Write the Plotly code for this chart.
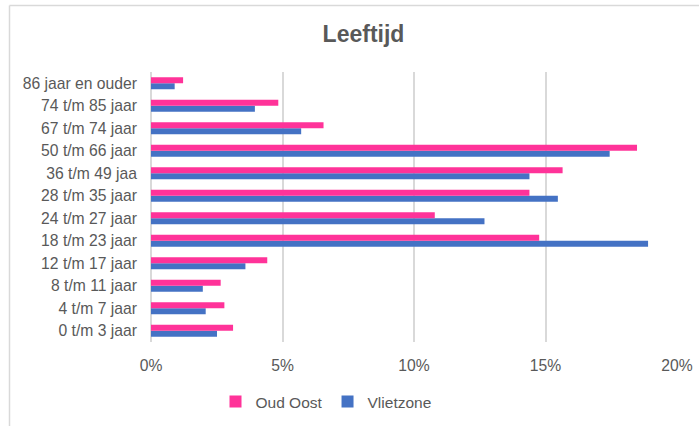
import plotly.graph_objects as go

categories = ["0 t/m 3 jaar", "4 t/m 7 jaar", "8 t/m 11 jaar", "12 t/m 17 jaar",
              "18 t/m 23 jaar", "24 t/m 27 jaar", "28 t/m 35 jaar", "36 t/m 49 jaa",
              "50 t/m 66 jaar", "67 t/m 74 jaar", "74 t/m 85 jaar", "86 jaar en ouder"]
oud_oost = [3.12, 2.79, 2.65, 4.42, 14.76, 10.79, 14.39, 15.65, 18.48, 6.56, 4.84, 1.22]
vlietzone = [2.51, 2.08, 1.97, 3.59, 18.90, 12.68, 15.47, 14.39, 17.44, 5.71, 3.95, 0.90]
x_ticks = [0, 5, 10, 15, 20]
x_tick_labels = ["0%", "5%", "10%", "15%", "20%"]

PINK = "#FF3399"
BLUE = "#4472C4"
TXT = "#595959"
GRID = "#D9D9D9"
FONT = "Liberation Sans, Arial, sans-serif"

fig = go.Figure()
fig.add_trace(go.Bar(y=categories, x=vlietzone, orientation="h", name="Vlietzone",
                     marker=dict(color=BLUE, line=dict(width=0)), legendrank=2))
fig.add_trace(go.Bar(y=categories, x=oud_oost, orientation="h", name="Oud Oost",
                     marker=dict(color=PINK, line=dict(width=0)), legendrank=1))

W, H = 699, 426
L, R, T, B = 151, 22, 72, 84
pw, ph = W - L - R, H - T - B

def px2x(px):
    return (px - L) / pw

def py2y(py):
    return (H - B - py) / ph

fig.update_layout(
    width=W, height=H,
    margin=dict(l=L, r=R, t=T, b=B, pad=0, autoexpand=False),
    paper_bgcolor="white", plot_bgcolor="white",
    barmode="group", bargap=0.467, bargroupgap=0,
    font=dict(family=FONT, color=TXT, size=15),
    title=dict(text="<b>Leeftijd</b>", x=363.5 / W, xref="container", xanchor="center",
               y=1 - 34 / H, yref="container", yanchor="middle",
               font=dict(size=23, color=TXT, family=FONT)),
    legend=dict(orientation="h", x=326 / W, xref="container", xanchor="center",
                y=1 - 402 / H, yref="container", yanchor="middle",
                font=dict(size=15.5, color=TXT), itemwidth=30, traceorder="normal"),
    xaxis=dict(range=[0, 20], tickvals=x_ticks, ticktext=x_tick_labels,
               showgrid=True, gridcolor=GRID, gridwidth=1.5,
               zeroline=True, zerolinecolor=GRID, zerolinewidth=1.5,
               showline=False, ticks="", ticklabelstandoff=12, automargin=False,
               tickfont=dict(size=15.7, color=TXT), fixedrange=True),
    yaxis=dict(categoryorder="array", categoryarray=categories,
               showgrid=False, zeroline=False, showline=False, ticks="", automargin=False,
               ticklabelstandoff=13, tickfont=dict(size=15.7, color=TXT), fixedrange=True),
    shapes=[
        dict(type="line", xref="paper", yref="paper",
             x0=px2x(9.5), x1=px2x(9.5), y0=py2y(5.5), y1=py2y(430),
             line=dict(color=GRID, width=1.5)),
        dict(type="line", xref="paper", yref="paper",
             x0=px2x(9.5), x1=px2x(702), y0=py2y(5.5), y1=py2y(5.5),
             line=dict(color=GRID, width=1.5)),
    ],
)

fig.write_html("out.html", config={"displayModeBar": False},
               post_script="document.body.style.margin='0';document.body.style.overflow='hidden';")
